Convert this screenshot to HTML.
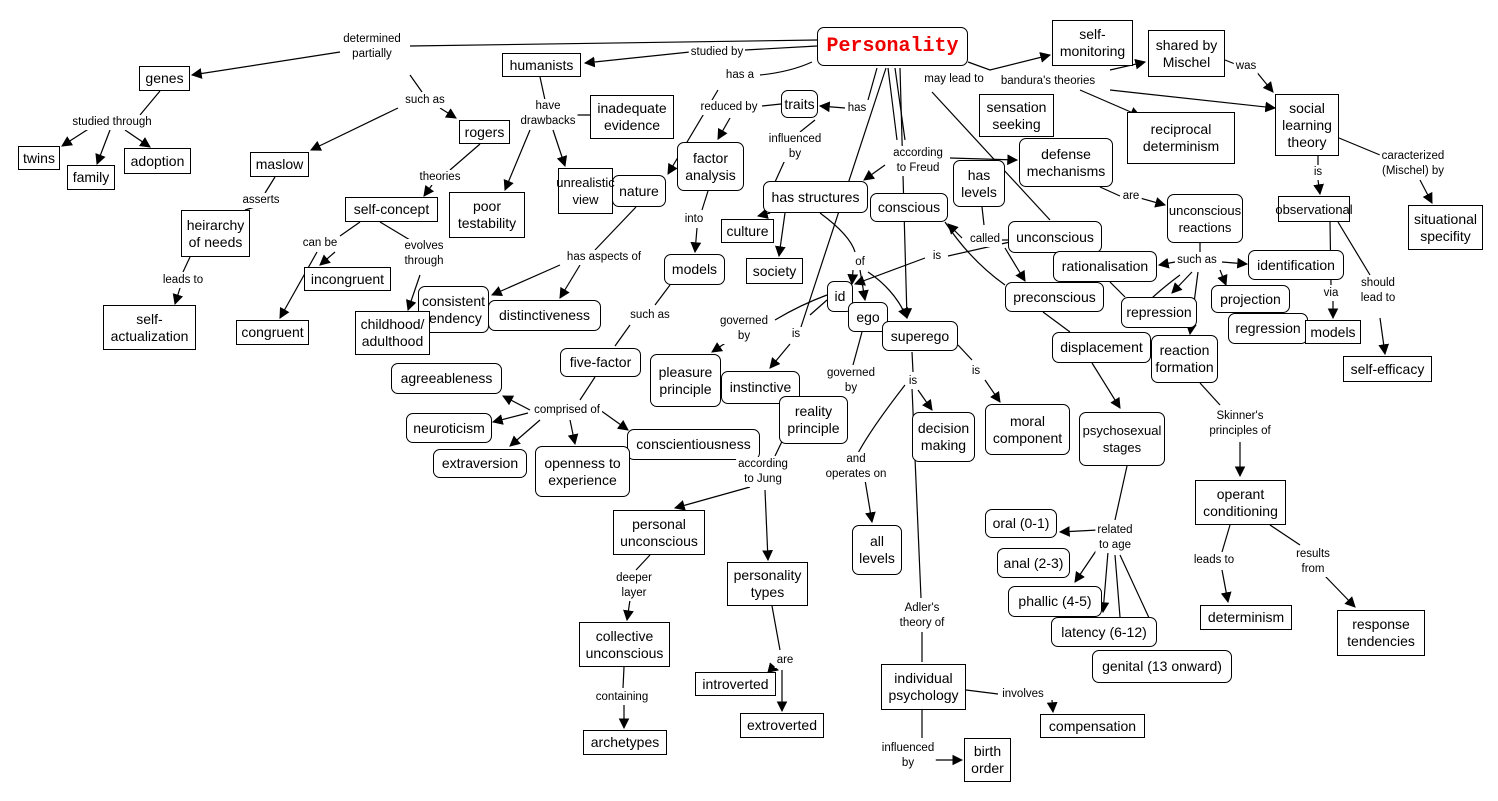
<!DOCTYPE html>
<html><head><meta charset="utf-8"><style>
body{margin:0;width:1498px;height:801px;background:#fff;position:relative;overflow:hidden;font-family:"Liberation Sans",sans-serif}
svg{position:absolute;left:0;top:0}
.n{position:absolute;border:1px solid #000;background:#fff;font-size:14px;text-align:center;display:flex;align-items:center;justify-content:center;line-height:17px;box-sizing:border-box;white-space:nowrap}
.r{border-radius:7px}
.s{font-size:13px}
.l{position:absolute;font-size:11.5px;line-height:15px;text-align:center;transform:translateX(-50%);background:#fff;white-space:nowrap;padding:0 2px}
</style></head><body>
<svg width="1498" height="801" viewBox="0 0 1498 801">
<defs><marker id="a" viewBox="0 0 10 10" refX="9" refY="5" markerWidth="9" markerHeight="9" orient="auto"><path d="M0,0L10,5L0,10z"/></marker></defs>
<g stroke="#000" stroke-width="1.2" fill="none">
<path d="M817,40 L410,46"/><path d="M817,46 L745,50"/><path d="M690,52 L585,63" marker-end="url(#a)"/>
<path d="M340,52 L192,75" marker-end="url(#a)"/>
<path d="M812,62 Q790,72 760,75"/><path d="M718,90 L668,174" marker-end="url(#a)"/>
<path d="M781,104 L762,106"/><path d="M730,118 L718,139" marker-end="url(#a)"/>
<path d="M877,68 L868,100"/><path d="M845,108 L820,106" marker-end="url(#a)"/>
<path d="M815,120 L800,132"/><path d="M785,160 L775,182"/>
<path d="M770,213 L758,216" marker-end="url(#a)"/><path d="M785,213 L779,256" marker-end="url(#a)"/>
<path d="M895,68 L905,140"/><path d="M888,68 L897,140"/>
<path d="M885,165 L864,180" marker-end="url(#a)"/><path d="M950,158 L1017,160" marker-end="url(#a)"/>
<path d="M886,68 L800,330"/><path d="M790,344 L770,368" marker-end="url(#a)"/>
<path d="M900,68 L907,318" marker-end="url(#a)"/>
<path d="M912,352 L913,372"/><path d="M918,390 L932,410" marker-end="url(#a)"/>
<path d="M912,388 L921,598"/><path d="M922,632 L922,662"/>
<path d="M905,385 Q870,430 857,455"/><path d="M865,480 L872,522" marker-end="url(#a)"/>
<path d="M932,92 L1050,220"/>
<path d="M968,62 L990,70 L1050,55" marker-end="url(#a)"/>
<path d="M1110,70 L1145,62" marker-end="url(#a)"/><path d="M1080,90 L1140,116" marker-end="url(#a)"/><path d="M1110,90 L1275,108" marker-end="url(#a)"/>
<path d="M1225,60 L1240,66"/><path d="M1255,70 L1273,92" marker-end="url(#a)"/>
<path d="M1318,156 L1318,165"/><path d="M1318,180 L1320,194" marker-end="url(#a)"/>
<path d="M1339,138 L1380,155"/><path d="M1420,180 L1432,203" marker-end="url(#a)"/>
<path d="M1330,222 L1331,285"/><path d="M1333,300 L1333,318" marker-end="url(#a)"/>
<path d="M1338,222 L1370,275"/><path d="M1380,318 L1385,354" marker-end="url(#a)"/>
<path d="M1100,187 L1120,196"/><path d="M1140,198 L1165,205" marker-end="url(#a)"/>
<path d="M1200,243 L1200,252"/><path d="M1175,262 L1159,265" marker-end="url(#a)"/><path d="M1222,262 L1247,264" marker-end="url(#a)"/>
<path d="M1220,270 L1226,285" marker-end="url(#a)"/><path d="M1192,272 L1172,293" marker-end="url(#a)"/><path d="M1198,272 L1190,334" marker-end="url(#a)"/>
<path d="M1180,275 Q1160,290 1150,300"/>
<path d="M982,207 L984,225"/><path d="M1008,240 L1000,240"/><path d="M962,238 L948,224" marker-end="url(#a)"/><path d="M1005,248 L1025,281" marker-end="url(#a)"/>
<path d="M1010,242 L948,256"/><path d="M925,258 L855,284" marker-end="url(#a)"/>
<path d="M945,222 Q970,260 1005,285"/>
<path d="M820,213 Q850,235 855,252"/><path d="M853,270 L852,284" marker-end="url(#a)"/><path d="M860,270 L865,300" marker-end="url(#a)"/><path d="M868,272 Q895,290 907,318" marker-end="url(#a)"/>
<path d="M827,295 Q800,305 775,320"/><path d="M730,340 L712,352" marker-end="url(#a)"/>
<path d="M862,332 L853,365"/><path d="M827,300 L810,315"/>
<path d="M958,345 L972,360"/><path d="M985,380 L1000,402" marker-end="url(#a)"/>
<path d="M1043,312 L1070,332"/><path d="M1110,282 L1125,297"/>
<path d="M1092,363 L1120,408" marker-end="url(#a)"/>
<path d="M1200,383 L1220,405"/><path d="M1240,442 L1240,476" marker-end="url(#a)"/>
<path d="M1127,466 L1115,520"/><path d="M1098,530 L1060,532" marker-end="url(#a)"/><path d="M1100,545 L1075,582" marker-end="url(#a)"/><path d="M1108,552 L1103,612" marker-end="url(#a)"/><path d="M1115,555 L1120,617"/><path d="M1120,555 L1150,620"/>
<path d="M1230,525 L1222,552"/><path d="M1222,570 L1228,602" marker-end="url(#a)"/>
<path d="M1270,525 L1300,545"/><path d="M1325,576 L1355,607" marker-end="url(#a)"/>
<path d="M410,75 L422,92"/><path d="M440,108 L456,118" marker-end="url(#a)"/><path d="M398,108 L311,150" marker-end="url(#a)"/>
<path d="M540,77 L545,100"/><path d="M553,130 L565,166" marker-end="url(#a)"/><path d="M530,130 L505,190" marker-end="url(#a)"/><path d="M570,115 L590,115"/>
<path d="M480,144 L450,170"/><path d="M432,185 L424,196" marker-end="url(#a)"/>
<path d="M360,222 L340,236"/><path d="M335,252 L320,265" marker-end="url(#a)"/><path d="M317,252 L280,318" marker-end="url(#a)"/>
<path d="M380,222 L410,240"/><path d="M420,275 L408,310" marker-end="url(#a)"/>
<path d="M275,177 L265,193"/><path d="M255,207 L245,210"/>
<path d="M190,257 L183,272"/><path d="M180,288 L175,304" marker-end="url(#a)"/>
<path d="M160,91 L140,115"/><path d="M90,128 L62,146" marker-end="url(#a)"/><path d="M110,130 L97,164" marker-end="url(#a)"/><path d="M125,130 L150,147" marker-end="url(#a)"/>
<path d="M636,207 L595,250"/><path d="M580,265 L560,298" marker-end="url(#a)"/><path d="M560,265 L492,295" marker-end="url(#a)"/>
<path d="M708,191 L702,210"/><path d="M697,228 L695,252" marker-end="url(#a)"/>
<path d="M670,285 L655,305"/><path d="M630,325 L615,346"/>
<path d="M595,377 L580,400"/><path d="M530,410 L503,396" marker-end="url(#a)"/><path d="M528,413 L493,422" marker-end="url(#a)"/><path d="M540,420 L510,446" marker-end="url(#a)"/><path d="M570,420 L575,444" marker-end="url(#a)"/><path d="M600,410 L628,430" marker-end="url(#a)"/>
<path d="M800,404 L775,456"/><path d="M750,487 L675,508" marker-end="url(#a)"/><path d="M765,490 L768,560" marker-end="url(#a)"/>
<path d="M650,555 L636,570"/><path d="M630,600 L627,620" marker-end="url(#a)"/>
<path d="M624,667 L623,688"/><path d="M624,705 L624,728" marker-end="url(#a)"/>
<path d="M772,606 L780,650"/><path d="M770,668 L778,670" marker-end="url(#a)"/><path d="M782,670 L782,711" marker-end="url(#a)"/>
<path d="M966,690 L998,694"/><path d="M1052,700 L1053,712" marker-end="url(#a)"/>
<path d="M922,710 L922,738"/><path d="M928,760 L962,760" marker-end="url(#a)"/>
</g></svg>

<div class="n r" style="left:817px;top:27px;width:151px;height:39px;color:#e00;font:bold 20px 'Liberation Mono',monospace">Personality</div>
<div class="n" style="left:1052px;top:20px;width:81px;height:46px">self-<br>monitoring</div>
<div class="n" style="left:1148px;top:30px;width:77px;height:47px">shared by<br>Mischel</div>
<div class="n" style="left:1275px;top:94px;width:64px;height:62px">social<br>learning<br>theory</div>
<div class="n" style="left:979px;top:94px;width:75px;height:43px">sensation<br>seeking</div>
<div class="n" style="left:1127px;top:112px;width:108px;height:52px">reciprocal<br>determinism</div>
<div class="n" style="left:139px;top:66px;width:51px;height:25px">genes</div>
<div class="n" style="left:502px;top:53px;width:79px;height:24px">humanists</div>
<div class="n" style="left:18px;top:146px;width:42px;height:24px">twins</div>
<div class="n" style="left:67px;top:165px;width:48px;height:25px">family</div>
<div class="n" style="left:124px;top:148px;width:67px;height:26px">adoption</div>
<div class="n" style="left:459px;top:120px;width:51px;height:24px">rogers</div>
<div class="n" style="left:590px;top:95px;width:84px;height:44px">inadequate<br>evidence</div>
<div class="n" style="left:250px;top:152px;width:59px;height:25px">maslow</div>
<div class="n r" style="left:781px;top:90px;width:37px;height:28px">traits</div>
<div class="n r" style="left:677px;top:142px;width:67px;height:49px">factor<br>analysis</div>
<div class="n r" style="left:612px;top:175px;width:54px;height:32px">nature</div>
<div class="n s" style="left:558px;top:168px;width:55px;height:46px">unrealistic<br>view</div>
<div class="n" style="left:449px;top:192px;width:76px;height:46px">poor<br>testability</div>
<div class="n" style="left:345px;top:197px;width:93px;height:25px">self-concept</div>
<div class="n" style="left:181px;top:210px;width:69px;height:47px">heirarchy<br>of needs</div>
<div class="n" style="left:721px;top:219px;width:53px;height:24px">culture</div>
<div class="n r" style="left:763px;top:181px;width:105px;height:32px">has structures</div>
<div class="n r" style="left:870px;top:193px;width:78px;height:29px">conscious</div>
<div class="n r" style="left:953px;top:160px;width:52px;height:47px">has<br>levels</div>
<div class="n r" style="left:1019px;top:138px;width:94px;height:49px">defense<br>mechanisms</div>
<div class="n r s" style="left:1167px;top:194px;width:76px;height:49px">unconscious<br>reactions</div>
<div class="n s" style="left:1278px;top:196px;width:72px;height:26px">observational</div>
<div class="n" style="left:1408px;top:205px;width:75px;height:45px">situational<br>specifity</div>
<div class="n" style="left:746px;top:258px;width:57px;height:26px">society</div>
<div class="n r" style="left:664px;top:254px;width:61px;height:31px">models</div>
<div class="n" style="left:304px;top:267px;width:87px;height:24px">incongruent</div>
<div class="n r" style="left:1008px;top:221px;width:94px;height:32px">unconscious</div>
<div class="n r" style="left:1053px;top:251px;width:104px;height:31px">rationalisation</div>
<div class="n r" style="left:1248px;top:250px;width:96px;height:30px">identification</div>
<div class="n r" style="left:1005px;top:282px;width:99px;height:30px">preconscious</div>
<div class="n" style="left:103px;top:305px;width:93px;height:45px">self-<br>actualization</div>
<div class="n" style="left:236px;top:320px;width:73px;height:25px">congruent</div>
<div class="n r" style="left:418px;top:286px;width:71px;height:47px">consistent<br>tendency</div>
<div class="n r" style="left:488px;top:300px;width:113px;height:31px">distinctiveness</div>
<div class="n" style="left:355px;top:311px;width:75px;height:44px">childhood/<br>adulthood</div>
<div class="n r" style="left:1211px;top:285px;width:79px;height:28px">projection</div>
<div class="n r" style="left:1228px;top:313px;width:80px;height:31px">regression</div>
<div class="n" style="left:1305px;top:320px;width:56px;height:24px">models</div>
<div class="n r" style="left:1121px;top:297px;width:76px;height:31px">repression</div>
<div class="n r" style="left:827px;top:281px;width:26px;height:31px">id</div>
<div class="n r" style="left:848px;top:302px;width:40px;height:30px">ego</div>
<div class="n r" style="left:882px;top:321px;width:76px;height:30px">superego</div>
<div class="n r" style="left:1052px;top:332px;width:99px;height:31px">displacement</div>
<div class="n r" style="left:1151px;top:335px;width:67px;height:48px">reaction<br>formation</div>
<div class="n" style="left:1343px;top:356px;width:89px;height:26px">self-efficacy</div>
<div class="n r" style="left:560px;top:348px;width:81px;height:29px">five-factor</div>
<div class="n r" style="left:391px;top:363px;width:111px;height:31px">agreeableness</div>
<div class="n r" style="left:650px;top:354px;width:71px;height:53px">pleasure<br>principle</div>
<div class="n r" style="left:721px;top:371px;width:79px;height:33px">instinctive</div>
<div class="n r" style="left:779px;top:396px;width:69px;height:48px">reality<br>principle</div>
<div class="n r" style="left:912px;top:412px;width:63px;height:50px">decision<br>making</div>
<div class="n r" style="left:985px;top:404px;width:85px;height:51px">moral<br>component</div>
<div class="n r s" style="left:1079px;top:412px;width:86px;height:54px">psychosexual<br>stages</div>
<div class="n r" style="left:406px;top:413px;width:86px;height:30px">neuroticism</div>
<div class="n r" style="left:627px;top:429px;width:133px;height:31px">conscientiousness</div>
<div class="n r" style="left:433px;top:449px;width:94px;height:29px">extraversion</div>
<div class="n r" style="left:535px;top:446px;width:95px;height:51px">openness to<br>experience</div>
<div class="n" style="left:1195px;top:480px;width:91px;height:45px">operant<br>conditioning</div>
<div class="n" style="left:613px;top:510px;width:92px;height:45px">personal<br>unconscious</div>
<div class="n r" style="left:852px;top:525px;width:50px;height:50px">all<br>levels</div>
<div class="n r" style="left:985px;top:509px;width:72px;height:29px">oral (0-1)</div>
<div class="n r" style="left:997px;top:548px;width:73px;height:30px">anal (2-3)</div>
<div class="n" style="left:727px;top:562px;width:81px;height:44px">personality<br>types</div>
<div class="n r" style="left:1008px;top:586px;width:94px;height:31px">phallic (4-5)</div>
<div class="n r" style="left:1051px;top:617px;width:106px;height:30px">latency (6-12)</div>
<div class="n r" style="left:1092px;top:650px;width:140px;height:33px">genital (13 onward)</div>
<div class="n" style="left:1200px;top:605px;width:92px;height:25px">determinism</div>
<div class="n" style="left:1337px;top:610px;width:88px;height:46px">response<br>tendencies</div>
<div class="n" style="left:579px;top:622px;width:91px;height:45px">collective<br>unconscious</div>
<div class="n" style="left:695px;top:672px;width:81px;height:24px">introverted</div>
<div class="n" style="left:881px;top:664px;width:85px;height:46px">individual<br>psychology</div>
<div class="n" style="left:1040px;top:714px;width:105px;height:24px">compensation</div>
<div class="n" style="left:740px;top:713px;width:84px;height:25px">extroverted</div>
<div class="n" style="left:583px;top:730px;width:84px;height:25px">archetypes</div>
<div class="n" style="left:964px;top:738px;width:47px;height:44px">birth<br>order</div>

<div class="l" style="left:372px;top:32px">determined<br>partially</div>
<div class="l" style="left:717px;top:45px">studied by</div>
<div class="l" style="left:740px;top:68px">has a</div>
<div class="l" style="left:425px;top:93px">such as</div>
<div class="l" style="left:548px;top:99px">have<br>drawbacks</div>
<div class="l" style="left:729px;top:100px">reduced by</div>
<div class="l" style="left:857px;top:101px">has</div>
<div class="l" style="left:954px;top:72px">may lead to</div>
<div class="l" style="left:1048px;top:74px">bandura's theories</div>
<div class="l" style="left:1246px;top:59px">was</div>
<div class="l" style="left:112px;top:115px">studied through</div>
<div class="l" style="left:795px;top:132px">influenced<br>by</div>
<div class="l" style="left:440px;top:170px">theories</div>
<div class="l" style="left:918px;top:146px">according<br>to Freud</div>
<div class="l" style="left:261px;top:193px">asserts</div>
<div class="l" style="left:1131px;top:189px">are</div>
<div class="l" style="left:1318px;top:165px">is</div>
<div class="l" style="left:1413px;top:149px">caracterized<br>(Mischel) by</div>
<div class="l" style="left:694px;top:212px">into</div>
<div class="l" style="left:320px;top:236px">can be</div>
<div class="l" style="left:424px;top:239px">evolves<br>through</div>
<div class="l" style="left:985px;top:232px">called</div>
<div class="l" style="left:937px;top:249px">is</div>
<div class="l" style="left:604px;top:250px">has aspects of</div>
<div class="l" style="left:860px;top:255px">of</div>
<div class="l" style="left:1197px;top:253px">such as</div>
<div class="l" style="left:183px;top:273px">leads to</div>
<div class="l" style="left:1378px;top:276px">should<br>lead to</div>
<div class="l" style="left:1331px;top:286px">via</div>
<div class="l" style="left:650px;top:308px">such as</div>
<div class="l" style="left:744px;top:314px">governed<br>by</div>
<div class="l" style="left:796px;top:327px">is</div>
<div class="l" style="left:851px;top:366px">governed<br>by</div>
<div class="l" style="left:913px;top:374px">is</div>
<div class="l" style="left:976px;top:364px">is</div>
<div class="l" style="left:567px;top:403px">comprised of</div>
<div class="l" style="left:1240px;top:409px">Skinner's<br>principles of</div>
<div class="l" style="left:856px;top:452px">and<br>operates on</div>
<div class="l" style="left:763px;top:457px">according<br>to Jung</div>
<div class="l" style="left:1115px;top:523px">related<br>to age</div>
<div class="l" style="left:1214px;top:553px">leads to</div>
<div class="l" style="left:1313px;top:547px">results<br>from</div>
<div class="l" style="left:634px;top:571px">deeper<br>layer</div>
<div class="l" style="left:922px;top:601px">Adler's<br>theory of</div>
<div class="l" style="left:785px;top:653px">are</div>
<div class="l" style="left:622px;top:690px">containing</div>
<div class="l" style="left:1023px;top:687px">involves</div>
<div class="l" style="left:908px;top:741px">influenced<br>by</div>
</body></html>
